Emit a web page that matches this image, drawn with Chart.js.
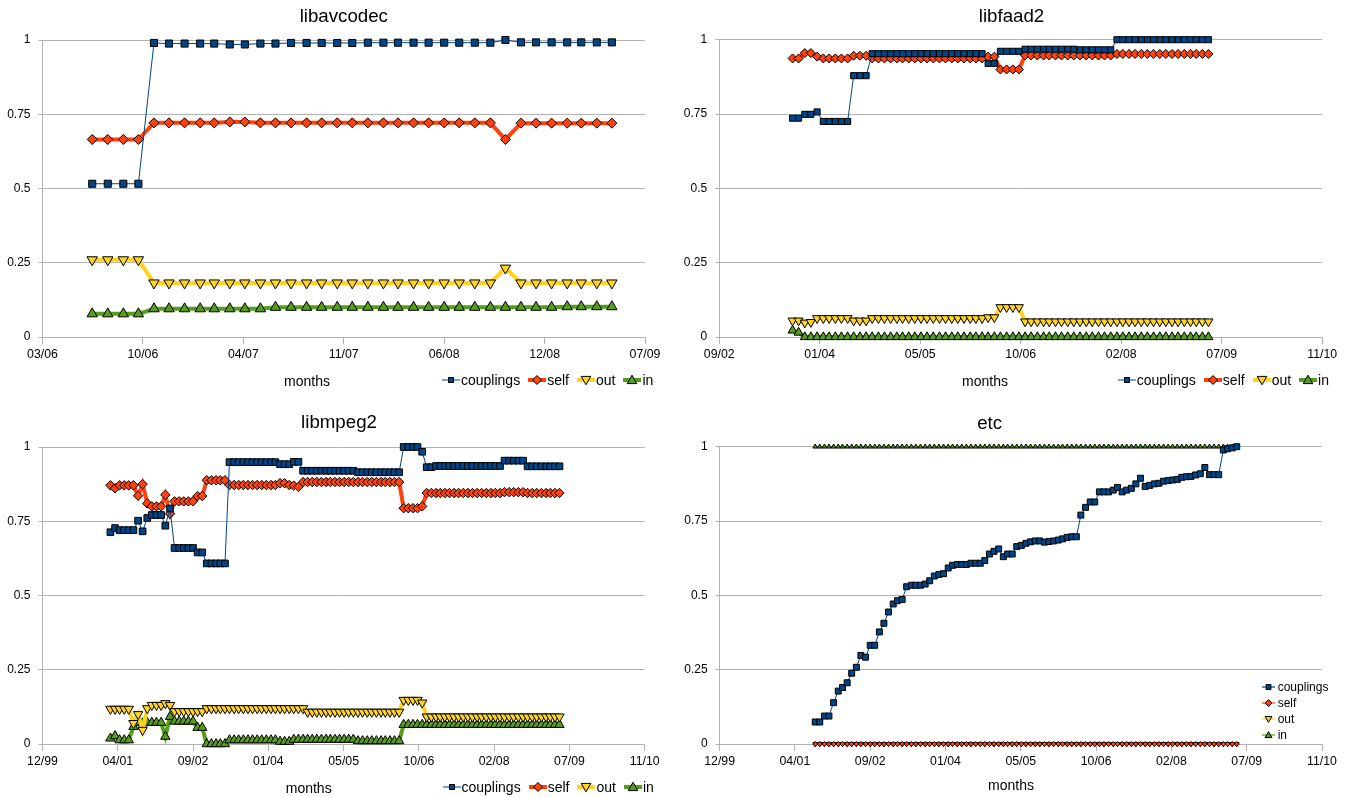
<!DOCTYPE html>
<html>
<head>
<meta charset="utf-8">
<script src="https://cdn.jsdelivr.net/npm/chart.js@4/dist/chart.umd.min.js"></script>
<style>
  html, body { margin: 0; padding: 0; background: #fff; }
  body { width: 1349px; height: 797px; position: relative; overflow: hidden;
         font-family: "Liberation Sans", Arial, sans-serif; color: #000; }
  canvas { position: absolute; }
  .txt { position: absolute; transform: translate(-50%, -50%); white-space: nowrap; line-height: 1; }
  .ttl { font-size: 18.7px; }
  .axt { font-size: 14px; }
  .lgrow { position: absolute; display: flex; align-items: center; font-size: 14px; line-height: 1;
           transform: translateY(-50%); white-space: nowrap; }
  .lgrow .it { display: flex; align-items: center; margin-right: 8px; }
  .lgrow svg { margin-right: 1px; }
  .lgcol { position: absolute; font-size: 12px; line-height: 1; white-space: nowrap; }
  .lgcol .it { display: flex; align-items: center; height: 16px; }
  .lgcol svg { margin-right: 3px; }
</style>
</head>
<body>
<canvas id="c1"></canvas>
<canvas id="c2"></canvas>
<canvas id="c3"></canvas>
<canvas id="c4"></canvas>
<script>
// ---- series ----
const seriesNames = ['couplings', 'self', 'out', 'in'];

// ---- libavcodec: monthly values from 07/2006 ----
const avcodecStart = [2006, 7];
const avcodecCouplings = [0.516, 0.516, 0.516, 0.516, 0.99, 0.988, 0.988, 0.988, 0.988, 0.985, 0.985, 0.988, 0.988,
  0.99, 0.99, 0.99, 0.99, 0.99, 0.991, 0.991, 0.991, 0.991, 0.991, 0.991, 0.991, 0.991, 0.991, 1.0,
  0.992, 0.992, 0.992, 0.992, 0.992, 0.992, 0.992];
const avcodecSelf = [0.665, 0.665, 0.665, 0.665, 0.721, 0.721, 0.721, 0.721, 0.721, 0.724, 0.724, 0.721, 0.721,
  0.721, 0.721, 0.721, 0.721, 0.721, 0.721, 0.721, 0.721, 0.721, 0.721, 0.721, 0.721, 0.721, 0.721, 0.665,
  0.72, 0.72, 0.72, 0.72, 0.72, 0.72, 0.72];
const avcodecOut = [0.26, 0.26, 0.26, 0.26, 0.182, 0.182, 0.182, 0.182, 0.182, 0.182, 0.182, 0.182, 0.182,
  0.182, 0.182, 0.182, 0.182, 0.182, 0.182, 0.182, 0.182, 0.182, 0.182, 0.182, 0.182, 0.182, 0.182, 0.232,
  0.182, 0.182, 0.182, 0.182, 0.182, 0.182, 0.182];
const avcodecIn = [0.078, 0.078, 0.078, 0.078, 0.095, 0.095, 0.095, 0.095, 0.095, 0.095, 0.095, 0.095, 0.1,
  0.1, 0.1, 0.1, 0.1, 0.1, 0.1, 0.1, 0.1, 0.1, 0.1, 0.1, 0.1, 0.1, 0.1, 0.1,
  0.1, 0.1, 0.1, 0.102, 0.102, 0.102, 0.102];

// ---- libfaad2: monthly values from 09/2003 ----
const faadStart = [2003, 9];
const faadCouplings = [0.736, 0.736, 0.749, 0.749, 0.757, 0.725, 0.725, 0.725, 0.725, 0.725,
  0.879, 0.879, 0.879,
  0.953, 0.953, 0.953, 0.953, 0.953, 0.953, 0.953, 0.953, 0.953, 0.953, 0.953, 0.953, 0.953, 0.953, 0.953, 0.953, 0.953, 0.953, 0.953,
  0.92, 0.92, 0.961, 0.961, 0.961, 0.961,
  0.968, 0.968, 0.968, 0.968, 0.968, 0.968, 0.968, 0.968, 0.968, 0.966, 0.966, 0.966, 0.966, 0.966, 0.966,
  1.0, 1.0, 1.0, 1.0, 1.0, 1.0, 1.0, 1.0, 1.0, 1.0, 1.0, 1.0, 1.0, 1.0, 1.0, 1.0];
const faadSelf = [0.937, 0.937, 0.955, 0.955, 0.943, 0.937, 0.937, 0.937, 0.937, 0.937,
  0.946, 0.946, 0.946,
  0.937, 0.937, 0.937, 0.937, 0.937, 0.937, 0.937, 0.937, 0.937, 0.937, 0.937, 0.937, 0.937, 0.937, 0.937, 0.937, 0.937, 0.937, 0.937,
  0.943, 0.943, 0.9, 0.9, 0.9, 0.9,
  0.947, 0.947, 0.947, 0.947, 0.947, 0.947, 0.947, 0.947, 0.947, 0.947, 0.947, 0.947, 0.947, 0.947, 0.947,
  0.952, 0.952, 0.952, 0.952, 0.952, 0.952, 0.952, 0.952, 0.952, 0.952, 0.952, 0.952, 0.952, 0.952, 0.952, 0.952];
const faadOut = [0.055, 0.055, 0.048, 0.05, 0.063, 0.063, 0.063, 0.063, 0.063, 0.063,
  0.055, 0.055, 0.055,
  0.063, 0.063, 0.063, 0.063, 0.063, 0.063, 0.063, 0.063, 0.063, 0.063, 0.063, 0.063, 0.063, 0.063, 0.063, 0.063, 0.063, 0.063, 0.063,
  0.066, 0.066, 0.1, 0.1, 0.1, 0.1,
  0.052, 0.052, 0.052, 0.052, 0.052, 0.052, 0.052, 0.052, 0.052, 0.052, 0.052, 0.052, 0.052, 0.052, 0.052,
  0.052, 0.052, 0.052, 0.052, 0.052, 0.052, 0.052, 0.052, 0.052, 0.052, 0.052, 0.052, 0.052, 0.052, 0.052, 0.052];
const faadIn = [0.022, 0.015, 0, 0, 0, 0, 0, 0, 0, 0,
  0, 0, 0,
  0, 0, 0, 0, 0, 0, 0, 0, 0, 0, 0, 0, 0, 0, 0, 0, 0, 0, 0,
  0, 0, 0, 0, 0, 0,
  0, 0, 0, 0, 0, 0, 0, 0, 0, 0, 0, 0, 0, 0, 0,
  0, 0, 0, 0, 0, 0, 0, 0, 0, 0, 0, 0, 0, 0, 0, 0];

// ---- libmpeg2: monthly values from 03/2001 ----
const mpegStart = [2001, 3];
const mpegCouplings = [0.713, 0.727, 0.72, 0.72, 0.72, 0.72, 0.752, 0.716, 0.761, 0.771, 0.771, 0.771, 0.735, 0.793,
  0.66, 0.66, 0.66, 0.66, 0.66, 0.645, 0.645, 0.608, 0.608, 0.608, 0.608, 0.608,
  0.949, 0.949, 0.949, 0.949, 0.949, 0.949, 0.949, 0.949, 0.949, 0.949, 0.949,
  0.942, 0.942, 0.942, 0.95, 0.95,
  0.92, 0.92, 0.92, 0.92, 0.92, 0.92, 0.92, 0.92, 0.92, 0.92, 0.92, 0.92,
  0.915, 0.915, 0.915, 0.915, 0.915, 0.915, 0.915, 0.915, 0.915, 0.915,
  1.0, 1.0, 1.0, 1.0, 0.984, 0.932, 0.932,
  0.936, 0.936, 0.936, 0.936, 0.936, 0.936, 0.936, 0.936, 0.936, 0.936, 0.936, 0.936, 0.936, 0.936, 0.936,
  0.954, 0.954, 0.954, 0.954, 0.954,
  0.935, 0.935, 0.935, 0.935, 0.935, 0.935, 0.935, 0.935];
const mpegSelf = [0.871, 0.861, 0.871, 0.871, 0.871, 0.871, 0.836, 0.875, 0.81, 0.8, 0.8, 0.8, 0.839, 0.775,
  0.817, 0.817, 0.817, 0.817, 0.817, 0.835, 0.835, 0.888, 0.888, 0.888, 0.888, 0.888,
  0.872, 0.872, 0.872, 0.872, 0.872, 0.872, 0.872, 0.872, 0.872, 0.872, 0.872,
  0.878, 0.878, 0.872, 0.87, 0.866,
  0.882, 0.882, 0.882, 0.882, 0.882, 0.882, 0.882, 0.882, 0.882, 0.882, 0.882, 0.882,
  0.882, 0.882, 0.882, 0.882, 0.882, 0.882, 0.882, 0.882, 0.882, 0.882,
  0.794, 0.794, 0.794, 0.794, 0.8, 0.845, 0.845,
  0.845, 0.845, 0.845, 0.845, 0.845, 0.845, 0.845, 0.845, 0.845, 0.845, 0.845, 0.845, 0.845, 0.845, 0.845,
  0.848, 0.848, 0.848, 0.848, 0.848,
  0.845, 0.845, 0.845, 0.845, 0.845, 0.845, 0.845, 0.845];
const mpegOut = [0.118, 0.118, 0.118, 0.118, 0.118, 0.07, 0.1, 0.047, 0.12, 0.131, 0.131, 0.131, 0.137, 0.131,
  0.11, 0.11, 0.11, 0.11, 0.11, 0.11, 0.11, 0.12, 0.12, 0.12, 0.12, 0.12,
  0.12, 0.12, 0.12, 0.12, 0.12, 0.12, 0.12, 0.12, 0.12, 0.12, 0.12,
  0.12, 0.12, 0.12, 0.12, 0.12,
  0.12, 0.108, 0.108, 0.108, 0.108, 0.108, 0.108, 0.108, 0.108, 0.108, 0.108, 0.108,
  0.108, 0.108, 0.108, 0.108, 0.108, 0.108, 0.108, 0.108, 0.108, 0.108,
  0.148, 0.148, 0.148, 0.148, 0.139, 0.092, 0.092,
  0.092, 0.092, 0.092, 0.092, 0.092, 0.092, 0.092, 0.092, 0.092, 0.092, 0.092, 0.092, 0.092, 0.092, 0.092,
  0.092, 0.092, 0.092, 0.092, 0.092,
  0.092, 0.092, 0.092, 0.092, 0.092, 0.092, 0.092, 0.092];
const mpegIn = [0.019, 0.027, 0.013, 0.013, 0.013, 0.058, 0.072, 0.07, 0.072, 0.072, 0.072, 0.072, 0.025, 0.092,
  0.076, 0.076, 0.076, 0.076, 0.076, 0.055, 0.055, 0, 0, 0, 0, 0,
  0.013, 0.013, 0.013, 0.013, 0.013, 0.013, 0.013, 0.013, 0.013, 0.013, 0.013,
  0.008, 0.008, 0.008, 0.015, 0.015,
  0.015, 0.015, 0.015, 0.015, 0.015, 0.015, 0.015, 0.015, 0.015, 0.015, 0.015, 0.015,
  0.01, 0.01, 0.01, 0.01, 0.01, 0.01, 0.01, 0.01, 0.01, 0.01,
  0.065, 0.065, 0.065, 0.065, 0.065, 0.065, 0.065,
  0.065, 0.065, 0.065, 0.065, 0.065, 0.065, 0.065, 0.065, 0.065, 0.065, 0.065, 0.065, 0.065, 0.065, 0.065,
  0.065, 0.065, 0.065, 0.065, 0.065,
  0.065, 0.065, 0.065, 0.065, 0.065, 0.065, 0.065, 0.065];

// ---- etc: monthly values from 09/2001 ----
const etcStart = [2001, 9];
const etcCouplings = [0.074, 0.074, 0.094, 0.094, 0.139, 0.178, 0.19, 0.206, 0.238, 0.258,
  0.298, 0.292, 0.332, 0.332, 0.377, 0.406, 0.444, 0.471, 0.482, 0.486,
  0.529, 0.534, 0.534, 0.534, 0.538, 0.549, 0.565, 0.57, 0.573, 0.592,
  0.601, 0.604, 0.604, 0.604, 0.608, 0.608, 0.608, 0.617, 0.639, 0.648,
  0.656, 0.63, 0.639, 0.639, 0.664, 0.668, 0.675, 0.68, 0.683, 0.683,
  0.679, 0.681, 0.683, 0.686, 0.69, 0.695, 0.697, 0.697, 0.77, 0.796,
  0.814, 0.814, 0.848, 0.848, 0.848, 0.854, 0.863, 0.848, 0.854, 0.86,
  0.875, 0.894, 0.866, 0.87, 0.875, 0.877, 0.884, 0.886, 0.888, 0.89,
  0.897, 0.899, 0.9, 0.905, 0.909, 0.93, 0.906, 0.906, 0.906, 0.989,
  0.993, 0.996, 1.0];
const etcSelf = [0, 0, 0, 0, 0, 0, 0, 0, 0, 0, 0, 0, 0, 0, 0, 0, 0, 0, 0, 0,
  0, 0, 0, 0, 0, 0, 0, 0, 0, 0, 0, 0, 0, 0, 0, 0, 0, 0, 0, 0,
  0, 0, 0, 0, 0, 0, 0, 0, 0, 0, 0, 0, 0, 0, 0, 0, 0, 0, 0, 0,
  0, 0, 0, 0, 0, 0, 0, 0, 0, 0, 0, 0, 0, 0, 0, 0, 0, 0, 0, 0,
  0, 0, 0, 0, 0, 0, 0, 0, 0, 0, 0, 0, 0];
const etcOut = [0, 0, 0, 0, 0, 0, 0, 0, 0, 0, 0, 0, 0, 0, 0, 0, 0, 0, 0, 0,
  0, 0, 0, 0, 0, 0, 0, 0, 0, 0, 0, 0, 0, 0, 0, 0, 0, 0, 0, 0,
  0, 0, 0, 0, 0, 0, 0, 0, 0, 0, 0, 0, 0, 0, 0, 0, 0, 0, 0, 0,
  0, 0, 0, 0, 0, 0, 0, 0, 0, 0, 0, 0, 0, 0, 0, 0, 0, 0, 0, 0,
  0, 0, 0, 0, 0, 0, 0, 0, 0, 0, 0, 0, 0];
const etcIn = [1, 1, 1, 1, 1, 1, 1, 1, 1, 1, 1, 1, 1, 1, 1, 1, 1, 1, 1, 1,
  1, 1, 1, 1, 1, 1, 1, 1, 1, 1, 1, 1, 1, 1, 1, 1, 1, 1, 1, 1,
  1, 1, 1, 1, 1, 1, 1, 1, 1, 1, 1, 1, 1, 1, 1, 1, 1, 1, 1, 1,
  1, 1, 1, 1, 1, 1, 1, 1, 1, 1, 1, 1, 1, 1, 1, 1, 1, 1, 1, 1,
  1, 1, 1, 1, 1, 1, 1, 1, 1, 1, 1, 1, 1];

// ---- styling ----
const seriesColors = ['#004586', '#ff420e', '#ffd320', '#579d1c'];
const seriesShapes = ['rect', 'rectRot', 'triangle', 'triangle'];
const seriesRotation = [0, 0, 180, 0];
const FONT = '"Liberation Sans", Arial, sans-serif';
const GRID = '#b3b3b3';

// Spreadsheet-style day numbers (days since 1899-12-30) drive the time axis.
const EPOCH = Date.UTC(1899, 11, 30);
const dayOf = (y, m) => Math.round((Date.UTC(y, m - 1, 1) - EPOCH) / 864e5);
const monthLabel = d => {
  const dt = new Date(EPOCH + d * 864e5);
  return String(dt.getUTCMonth() + 1).padStart(2, '0') + '/' + String(dt.getUTCFullYear() % 100).padStart(2, '0');
};
const monthDays = (start, n) => {
  const out = [];
  for (let i = 0; i < n; i++) {
    const m0 = start[1] - 1 + i;
    out.push(dayOf(start[0] + Math.floor(m0 / 12), (m0 % 12) + 1));
  }
  return out;
};

const panels = [
  { id: 'c1', title: 'libavcodec', start: avcodecStart,
    values: [avcodecCouplings, avcodecSelf, avcodecOut, avcodecIn],
    box: { x: 0, y: 0, w: 675, h: 400 }, area: { l: 42.5, t: 40, r: 645, b: 337 },
    xMin: 38800, xMax: 40000, xStep: 200,
    radius: [5, 5, 6, 6], lineWidth: [1, 4, 4, 4],
    titleAt: [343.8, 16], monthsAt: [307, 381], legend: { kind: 'row', x: 442, y: 379.5 } },
  { id: 'c2', title: 'libfaad2', start: faadStart,
    values: [faadCouplings, faadSelf, faadOut, faadIn],
    box: { x: 675, y: 0, w: 674, h: 400 }, area: { l: 719.2, t: 39.7, r: 1322.2, b: 337 },
    xMin: 37500, xMax: 40500, xStep: 500,
    radius: [4.3, 4.5, 5.2, 5.2], lineWidth: [1, 4, 4, 4],
    titleAt: [1011.5, 16], monthsAt: [985, 381], legend: { kind: 'row', x: 1117.7, y: 379.5 } },
  { id: 'c3', title: 'libmpeg2', start: mpegStart,
    values: [mpegCouplings, mpegSelf, mpegOut, mpegIn],
    box: { x: 0, y: 400, w: 675, h: 397 }, area: { l: 42.5, t: 447, r: 644.7, b: 744 },
    xMin: 36500, xMax: 40500, xStep: 500,
    radius: [4.7, 4.7, 5.4, 5.4], lineWidth: [1, 4, 4, 4],
    titleAt: [339, 422], monthsAt: [308.7, 788], legend: { kind: 'row', x: 442.5, y: 786.7 } },
  { id: 'c4', title: 'etc', start: etcStart,
    values: [etcCouplings, etcSelf, etcOut, etcIn],
    box: { x: 675, y: 400, w: 674, h: 397 }, area: { l: 719.6, t: 446.7, r: 1322, b: 744 },
    xMin: 36500, xMax: 40500, xStep: 500,
    radius: [4.2, 2.5, 2.7, 2.7], lineWidth: [1, 1, 1, 1],
    titleAt: [989.6, 422.5], monthsAt: [1011, 785], legend: { kind: 'col', x: 1261.7, y: 679.3 } }
];

function iconSvg(i, w, lw, s) {
  const c = seriesColors[i], h = 14, cy = h / 2, cx = w / 2;
  let mark;
  if (i === 0) mark = `<rect x="${cx - s * 0.7}" y="${cy - s * 0.7}" width="${s * 1.4}" height="${s * 1.4}" fill="${c}" stroke="#000" stroke-width="1"/>`;
  else if (i === 1) mark = `<polygon points="${cx},${cy - s} ${cx + s},${cy} ${cx},${cy + s} ${cx - s},${cy}" fill="${c}" stroke="#000" stroke-width="1"/>`;
  else if (i === 2) mark = `<polygon points="${cx - s},${cy - s * 0.75} ${cx + s},${cy - s * 0.75} ${cx},${cy + s}" fill="${c}" stroke="#000" stroke-width="1"/>`;
  else mark = `<polygon points="${cx - s},${cy + s * 0.75} ${cx + s},${cy + s * 0.75} ${cx},${cy - s}" fill="${c}" stroke="#000" stroke-width="1"/>`;
  return `<svg width="${w}" height="${h}" viewBox="0 0 ${w} ${h}"><line x1="0" y1="${cy}" x2="${w}" y2="${cy}" stroke="${c}" stroke-width="${lw}"/>${mark}</svg>`;
}

function addText(cls, text, at) {
  const d = document.createElement('div');
  d.className = 'txt ' + cls;
  d.textContent = text;
  d.style.left = at[0] + 'px';
  d.style.top = at[1] + 'px';
  document.body.appendChild(d);
}

function addLegend(p) {
  const d = document.createElement('div');
  const lg = p.legend;
  d.className = lg.kind === 'row' ? 'lgrow' : 'lgcol';
  d.style.left = lg.x + 'px';
  d.style.top = lg.y + 'px';
  seriesNames.forEach((name, i) => {
    const it = document.createElement('div');
    it.className = 'it';
    const sizes = lg.kind === 'row' ? [3.5, 4.5, 4.8, 4.8] : [3.4, 3.4, 3.4, 3.4];
    it.innerHTML = iconSvg(i, lg.kind === 'row' ? 18 : 13, lg.kind === 'row' ? p.lineWidth[i] : 1.2, sizes[i]);
    const sp = document.createElement('span');
    sp.textContent = name;
    it.appendChild(sp);
    d.appendChild(it);
  });
  document.body.appendChild(d);
}

panels.forEach(p => {
  const cv = document.getElementById(p.id);
  cv.width = p.box.w; cv.height = p.box.h;
  cv.style.left = p.box.x + 'px'; cv.style.top = p.box.y + 'px';
  cv.style.width = p.box.w + 'px'; cv.style.height = p.box.h + 'px';

  const days = monthDays(p.start, p.values[0].length);
  const datasets = seriesNames.map((name, i) => ({
    label: name,
    data: p.values[i].map((v, k) => ({ x: days[k], y: v })),
    borderColor: seriesColors[i],
    backgroundColor: seriesColors[i],
    borderWidth: p.lineWidth[i],
    pointStyle: seriesShapes[i],
    pointRotation: seriesRotation[i],
    pointRadius: p.radius[i],
    pointBackgroundColor: seriesColors[i],
    pointBorderColor: '#000',
    pointBorderWidth: 1,
    tension: 0,
    fill: false,
    clip: false
  }));

  new Chart(cv, {
    type: 'line',
    data: { datasets },
    options: {
      responsive: false,
      animation: false,
      devicePixelRatio: 1,
      events: [],
      layout: { padding: { left: 0, top: p.area.t - p.box.y, right: p.box.x + p.box.w - p.area.r, bottom: 0 } },
      plugins: { legend: { display: false }, title: { display: false }, tooltip: { enabled: false } },
      scales: {
        x: {
          type: 'linear', min: p.xMin, max: p.xMax,
          afterFit: s => { s.height = p.box.y + p.box.h - p.area.b; },
          ticks: { stepSize: p.xStep, autoSkip: false, maxRotation: 0, padding: 3,
                   color: '#000', font: { family: FONT, size: 12.3 }, callback: v => monthLabel(v) },
          grid: { drawOnChartArea: false, drawTicks: true, tickLength: 7, color: GRID },
          border: { color: GRID }
        },
        y: {
          min: 0, max: 1,
          afterFit: s => { s.width = p.area.l - p.box.x; },
          ticks: { stepSize: 0.25, padding: 8, color: '#000', font: { family: FONT, size: 12 },
                   callback: v => String(v) },
          grid: { color: GRID, tickLength: 4 },
          border: { color: GRID }
        }
      }
    }
  });

  addText('ttl', p.title, p.titleAt);
  addText('axt', 'months', p.monthsAt);
  addLegend(p);
});
</script>
</body>
</html>
